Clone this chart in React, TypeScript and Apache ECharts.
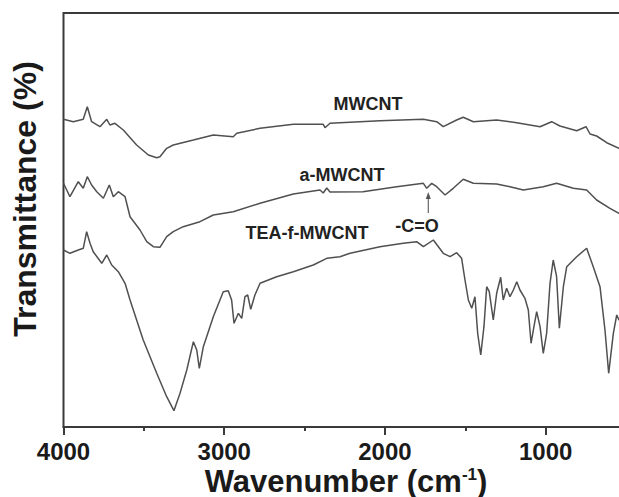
import React, { useEffect, useRef } from 'react';
import * as echarts from 'echarts';

const tickLabels = ['4000', '3000', '2000', '1000'];
const seriesNames = ['MWCNT', 'a-MWCNT', 'TEA-f-MWCNT'];

const mwcntWave = [4000, 3939, 3877, 3852, 3825, 3773, 3731, 3711, 3680, 3628, 3545, 3472, 3420, 3400, 3358, 3317, 3192, 3068, 2944, 2922, 2777, 2570, 2384, 2373, 2342, 2031, 1761, 1678, 1637, 1554, 1513, 1450, 1305, 1180, 1035, 963, 911, 807, 749, 724, 683, 620, 544, 520];
const mwcntVal = [307.7, 305.3, 307.7, 320.3, 305.3, 300.3, 307.7, 302, 303.7, 297, 282, 272, 269.3, 270.3, 278.7, 282, 287, 292, 290.3, 293.7, 298.7, 302.7, 302.7, 299.3, 303.7, 306.3, 307.7, 305.3, 300.3, 307, 309.7, 305.3, 307, 304.3, 300.3, 305.3, 301, 296.3, 300.3, 293, 291, 284.3, 278.7, 276];

const aWave = [4000, 3960, 3908, 3877, 3852, 3825, 3793, 3752, 3715, 3690, 3659, 3617, 3586, 3524, 3482, 3441, 3400, 3358, 3317, 3255, 3151, 3068, 2944, 2777, 2570, 2404, 2384, 2362, 2342, 2137, 1927, 1761, 1740, 1709, 1678, 1626, 1575, 1513, 1450, 1305, 1222, 1139, 1015, 932, 828, 745, 683, 600, 544, 520];
const aVal = [243.7, 230.3, 245.3, 238.7, 250.3, 242, 235.3, 228.7, 242, 230.3, 235.3, 230.3, 210.3, 197, 185.3, 180.3, 179.7, 190.3, 195.3, 200.3, 205.3, 212, 215.3, 223.7, 233, 237, 234, 239, 235, 235.3, 240.3, 243.7, 238.7, 243.7, 240.3, 232, 238.7, 247.7, 243.7, 243, 240.3, 237, 240.3, 243.7, 238.7, 237, 227, 218.7, 213.7, 211];

const teaWave = [4000, 3960, 3908, 3877, 3856, 3835, 3815, 3762, 3731, 3700, 3659, 3617, 3586, 3504, 3420, 3358, 3313, 3275, 3233, 3192, 3171, 3155, 3130, 3068, 3006, 2975, 2954, 2939, 2912, 2891, 2871, 2854, 2835, 2809, 2777, 2674, 2570, 2446, 2362, 2280, 2217, 2031, 1886, 1803, 1761, 1699, 1637, 1595, 1554, 1523, 1502, 1481, 1460, 1440, 1423, 1404, 1384, 1367, 1351, 1326, 1305, 1280, 1264, 1243, 1222, 1201, 1180, 1160, 1129, 1108, 1091, 1073, 1056, 1035, 1015, 994, 973, 953, 932, 915, 890, 869, 807, 745, 704, 662, 631, 608, 579, 558, 544, 530];
const teaVal = [177, 173.7, 177, 178.7, 195.3, 183.7, 175.3, 163.7, 172, 162, 155.3, 143.7, 127, 87, 53.7, 30.3, 16.3, 33.7, 57, 85.3, 77, 58.7, 80.3, 110.3, 135.3, 136.3, 127, 103.7, 113.7, 108.7, 130.3, 132, 117.7, 132, 143.7, 150.3, 155.3, 162, 168.7, 170.3, 173.7, 180.3, 183.7, 185.3, 180.3, 187, 173.7, 170.3, 174.3, 168.7, 147, 127, 118.7, 130.3, 93.7, 72, 100.3, 140.3, 135.3, 107, 133.7, 149.7, 127, 138.7, 130.3, 137, 145.3, 137, 128.7, 117, 83.7, 100.3, 115.3, 100.3, 73.7, 93.7, 143.7, 167, 150.3, 98.7, 140.3, 160.3, 170.3, 178.7, 160.3, 140.3, 97, 53.7, 93.7, 112, 107, 110];

const FONT = 'Liberation Sans, Arial, Helvetica, sans-serif';
const LINE_COLOR = '#505050';

function pairs(w: number[], v: number[]) {
  return w.map((x, i) => [x, v[i]]);
}

export default function App() {
  const ref = useRef<HTMLDivElement>(null);
  useEffect(() => {
    const chart = echarts.init(ref.current!, null, { renderer: 'svg' });
    const lineSeries = (name: string, w: number[], v: number[]) => ({
      name,
      type: 'line',
      data: pairs(w, v),
      showSymbol: false,
      symbol: 'none',
      smooth: false,
      lineStyle: { color: LINE_COLOR, width: 1.5 },
      z: 3,
    });
    chart.setOption({
      animation: false,
      backgroundColor: '#ffffff',
      grid: {
        left: 63.5,
        top: 13,
        height: 414,
        width: 642.9,
        outerBoundsMode: 'none',
        containLabel: false,
        show: true,
        borderColor: '#3a3a3a',
        borderWidth: 2,
        backgroundColor: 'transparent',
      },
      xAxis: {
        type: 'value',
        min: 0,
        max: 4000,
        interval: 1000,
        inverse: true,
        axisLine: { show: true, lineStyle: { color: '#3a3a3a', width: 2 } },
        axisTick: { show: true, length: 8, lineStyle: { color: '#3a3a3a', width: 2 } },
        minorTick: { show: true, splitNumber: 2, length: 4, lineStyle: { color: '#3a3a3a', width: 2 } },
        splitLine: { show: false },
        axisLabel: {
          margin: 12,
          fontSize: 24,
          fontWeight: 'bold',
          fontFamily: FONT,
          color: '#1a1a1a',
          formatter: (v: number) => (tickLabels.includes(String(v)) ? String(v) : ''),
        },
      },
      yAxis: {
        type: 'value',
        min: 0,
        max: 414,
        axisLine: { show: true, lineStyle: { color: '#3a3a3a', width: 2 } },
        axisTick: { show: false },
        axisLabel: { show: false },
        splitLine: { show: false },
      },
      series: [
        lineSeries(seriesNames[0], mwcntWave, mwcntVal),
        lineSeries(seriesNames[1], aWave, aVal),
        lineSeries(seriesNames[2], teaWave, teaVal),
      ],
      graphic: [
        {
          type: 'text',
          x: 25,
          y: 199,
          rotation: Math.PI / 2,
          style: {
            text: 'Transmittance (%)',
            fontSize: 32,
            fontWeight: 'bold',
            fontFamily: FONT,
            fill: '#1a1a1a',
            align: 'center',
            verticalAlign: 'middle',
          },
        },
        {
          type: 'text',
          x: 346,
          y: 481,
          style: {
            text: '{b|Wavenumber (cm}{s|-1}{b|)}',
            align: 'center',
            verticalAlign: 'middle',
            rich: {
              b: { fontSize: 31, fontWeight: 'bold', fontFamily: FONT, fill: '#1a1a1a', lineHeight: 31, verticalAlign: 'middle' },
              s: { fontSize: 17, fontWeight: 'bold', fontFamily: FONT, fill: '#1a1a1a', lineHeight: 17, verticalAlign: 'top' },
            },
          },
        },
        {
          type: 'text', x: 368, y: 104,
          style: { text: seriesNames[0], fontSize: 18, fontWeight: 'bold', fontFamily: FONT, fill: '#222', align: 'center', verticalAlign: 'middle' },
        },
        {
          type: 'text', x: 342, y: 175,
          style: { text: seriesNames[1], fontSize: 18, fontWeight: 'bold', fontFamily: FONT, fill: '#222', align: 'center', verticalAlign: 'middle' },
        },
        {
          type: 'text', x: 307, y: 233,
          style: { text: seriesNames[2], fontSize: 18, fontWeight: 'bold', fontFamily: FONT, fill: '#222', align: 'center', verticalAlign: 'middle' },
        },
        {
          type: 'text', x: 417, y: 226,
          style: { text: '-C=O', fontSize: 18, fontWeight: 'bold', fontFamily: FONT, fill: '#222', align: 'center', verticalAlign: 'middle' },
        },
        {
          type: 'line',
          shape: { x1: 428.3, y1: 213, x2: 428.3, y2: 197 },
          style: { stroke: '#666', lineWidth: 1.2 },
        },
        {
          type: 'polygon',
          shape: { points: [[428.3, 192], [425.8, 199], [430.8, 199]] },
          style: { fill: '#555' },
        },
      ],
    });
    return () => chart.dispose();
  }, []);
  return (
    <div
      ref={ref}
      style={{ position: 'absolute', left: 0, top: 0, width: 619, height: 497, background: '#fff' }}
    />
  );
}
